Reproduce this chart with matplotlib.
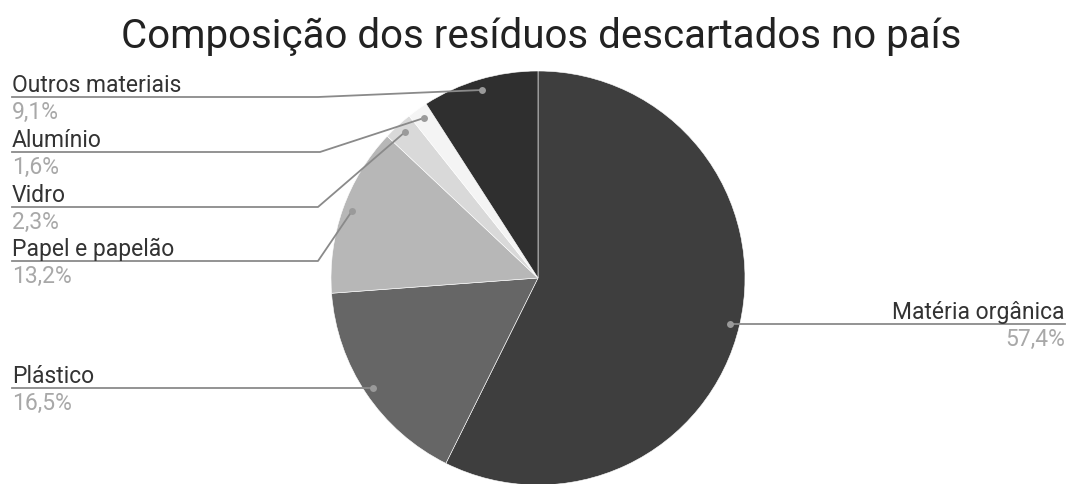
import matplotlib
matplotlib.use("Agg")
import matplotlib.pyplot as plt

plt.rcParams["font.family"] = ["Roboto", "DejaVu Sans"]

title = "Composição dos resíduos descartados no país"
categories = ["Matéria orgânica", "Plástico", "Papel e papelão", "Vidro", "Alumínio", "Outros materiais"]
values = [57.4, 16.5, 13.2, 2.3, 1.6, 9.1]
pct_labels = ["57,4%", "16,5%", "13,2%", "2,3%", "1,6%", "9,1%"]
colors = ["#3e3e3e", "#666666", "#b7b7b7", "#d9d9d9", "#f4f4f4", "#2f2f2f"]

W, H = 1069, 485
fig = plt.figure(figsize=(W / 100, H / 100), dpi=100)
ax = fig.add_axes([0, 0, 1, 1])

cx, cy, r = 538, 279, 207
# y axis is inverted, so counterclock=True draws clockwise on screen
wedges, _ = ax.pie(values, colors=colors, startangle=-90, counterclock=True,
                   center=(cx, cy), radius=r, frame=True,
                   wedgeprops=dict(edgecolor="white", linewidth=0.4))
ax.set_xlim(0, W)
ax.set_ylim(H, 0)
ax.set_aspect("equal")
ax.axis("off")

# leader lines: (dot position, line y, elbow x, side)
leaders = {
    "Matéria orgânica": ((730, 325), 325, None, "right"),
    "Plástico": ((373, 389), 389, None, "left"),
    "Papel e papelão": ((352, 212), 262, 318, "left"),
    "Vidro": ((405, 133), 208, 318, "left"),
    "Alumínio": ((424, 119), 153, 320, "left"),
    "Outros materiais": ((482, 91), 98, 318, "left"),
}
line_col = "#8a8a8a"
fs = 16.5
for cat, pct in zip(categories, pct_labels):
    (dx, dy), ly, ex, side = leaders[cat]
    if side == "right":
        ax.plot([dx, 1065], [ly, ly], color=line_col, lw=1.3, zorder=3)
        ax.text(1065, ly - 6, cat, ha="right", va="baseline", fontsize=fs, color="#333333")
        ax.text(1065, ly + 3, pct, ha="right", va="top", fontsize=fs, color="#a8a8a8")
    else:
        if ex is None:
            ax.plot([12, dx], [ly, dy], color=line_col, lw=1.3, zorder=3)
        else:
            ax.plot([12, ex, dx], [ly, ly, dy], color=line_col, lw=1.3, zorder=3)
        ax.text(12, ly - 6, cat, ha="left", va="baseline", fontsize=fs, color="#333333")
        ax.text(12, ly + 3, pct, ha="left", va="top", fontsize=fs, color="#a8a8a8")
    ax.plot(dx, dy, "o", ms=5, color="#9a9a9a", mec="none", zorder=4)

ax.text(541, 37, title, ha="center", va="center", fontsize=29, color="#222222")

fig.savefig("out.png", dpi=100)
